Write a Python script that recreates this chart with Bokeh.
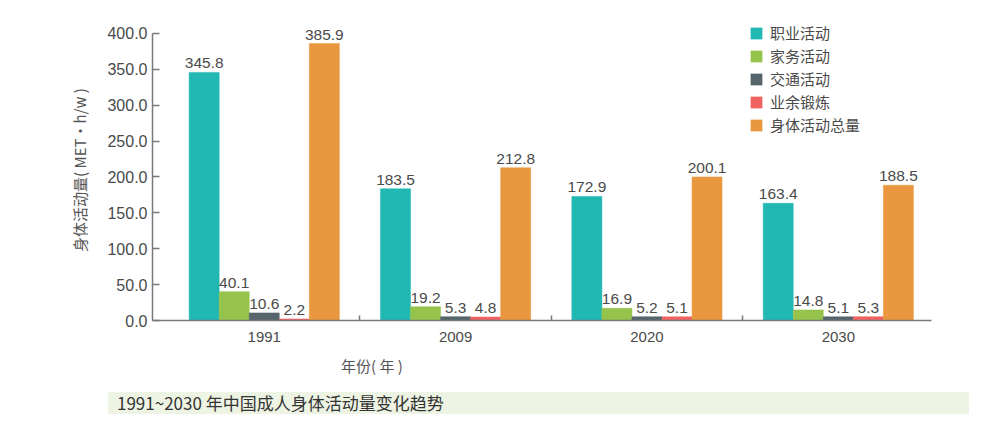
from bokeh.plotting import figure
from bokeh.models import (ColumnDataSource, FixedTicker, Range1d, Legend, LegendItem,
                          Div, NumeralTickFormatter)
from bokeh.layouts import column
from bokeh.core.properties import value
from bokeh.embed import file_html
from bokeh.resources import INLINE

years = ["1991", "2009", "2020", "2030"]
series_names = ["职业活动", "家务活动", "交通活动", "业余锻炼", "身体活动总量"]
occupational = [345.8, 183.5, 172.9, 163.4]
household = [40.1, 19.2, 16.9, 14.8]
transport = [10.6, 5.3, 5.2, 5.1]
leisure = [2.2, 4.8, 5.1, 5.3]
total = [385.9, 212.8, 200.1, 188.5]
series_values = [occupational, household, transport, leisure, total]
colors = ["#21b7b3", "#95c34b", "#56646b", "#f06262", "#e9983f"]
y_ticks = [0, 50, 100, 150, 200, 250, 300, 350, 400]

CJK = "Noto Sans CJK SC"
LAT = "Liberation Sans"
TXT = "#4a4a4a"

bar_w = 0.157
p = figure(width=984, height=356, output_backend="svg", toolbar_location=None,
           x_range=Range1d(-0.584, 3.487), y_range=Range1d(0, 419.5),
           min_border_left=152, min_border_right=53, min_border_top=19,
           min_border_bottom=36, outline_line_color=None)
p.background_fill_color = None
p.border_fill_color = None
p.grid.visible = False

legend_items = []
for k, (name, vals, col) in enumerate(zip(series_names, series_values, colors)):
    xs = [i + (k - 2) * bar_w for i in range(len(years))]
    src = ColumnDataSource(dict(x=xs, top=vals, lbl=[f"{v:.1f}" for v in vals]))
    r = p.vbar(x="x", top="top", width=bar_w, bottom=0, source=src,
               fill_color=col, line_color=col, line_width=0.5)
    p.text(x="x", y="top", text="lbl", source=src, text_align="center",
           text_baseline="bottom", y_offset=-4, text_color=TXT,
           text_font=value(LAT), text_font_size="15.5px")
    legend_items.append(LegendItem(label=name, renderers=[r]))

legend = Legend(items=legend_items, location=(597, 185), glyph_width=14, glyph_height=14,
                label_text_font=CJK, label_text_font_size="15px", label_text_color=TXT,
                label_height=14, label_standoff=7, spacing=2, padding=0, margin=0,
                border_line_color=None, background_fill_alpha=0)
p.add_layout(legend)

# x axis
xa = p.xaxis[0]
xa.ticker = FixedTicker(ticks=list(range(len(years))),
                        minor_ticks=[i + 0.5 for i in range(len(years))])
xa.major_label_overrides = {i: y for i, y in enumerate(years)}
xa.major_tick_in = 0
xa.major_tick_out = 0
xa.minor_tick_in = 5
xa.minor_tick_out = 0
xa.minor_tick_line_color = "#7a7a7a"
xa.minor_tick_line_width = 1.5
xa.axis_line_color = "#7a7a7a"
xa.axis_line_width = 1.5
xa.major_label_text_font = LAT
xa.major_label_text_font_size = "15px"
xa.major_label_text_color = TXT
xa.major_label_standoff = 11

# y axis
ya = p.yaxis[0]
ya.ticker = FixedTicker(ticks=y_ticks)
ya.bounds = (0, 400)
ya.formatter = NumeralTickFormatter(format="0.0")
ya.major_tick_in = 7
ya.major_tick_out = 0
ya.minor_tick_in = 0
ya.minor_tick_out = 0
ya.major_tick_line_color = "#7a7a7a"
ya.major_tick_line_width = 1.5
ya.axis_line_color = "#7a7a7a"
ya.axis_line_width = 1.5
ya.major_label_text_font = LAT
ya.major_label_text_font_size = "16px"
ya.major_label_text_color = TXT
ya.major_label_standoff = 5
ya.axis_label = "身体活动量( MET•h/w )"
ya.axis_label_text_font = CJK
ya.axis_label_text_font_size = "15px"
ya.axis_label_text_font_style = "normal"
ya.axis_label_text_color = "#555555"
ya.axis_label_standoff = 14

xlabel = Div(text="年份( 年 )", width=120, height=20, margin=(0, 0, 0, 312),
             styles={"font-size": "15px", "font-family": CJK, "color": "#555555",
                     "line-height": "20px", "text-align": "center",
                     "white-space": "pre"})

caption = Div(text="1991~2030 年中国成人身体活动量变化趋势", width=861, height=22,
              margin=(16, 0, 0, 108),
              styles={"background-color": "#eef4e4", "font-size": "17px",
                      "font-family": CJK, "color": "#333333", "line-height": "22px",
                      "padding-left": "9px", "box-sizing": "border-box",
                      "white-space": "nowrap"})

layout = column(p, xlabel, caption, spacing=0)
open("out.html", "w").write(file_html(layout, INLINE))
